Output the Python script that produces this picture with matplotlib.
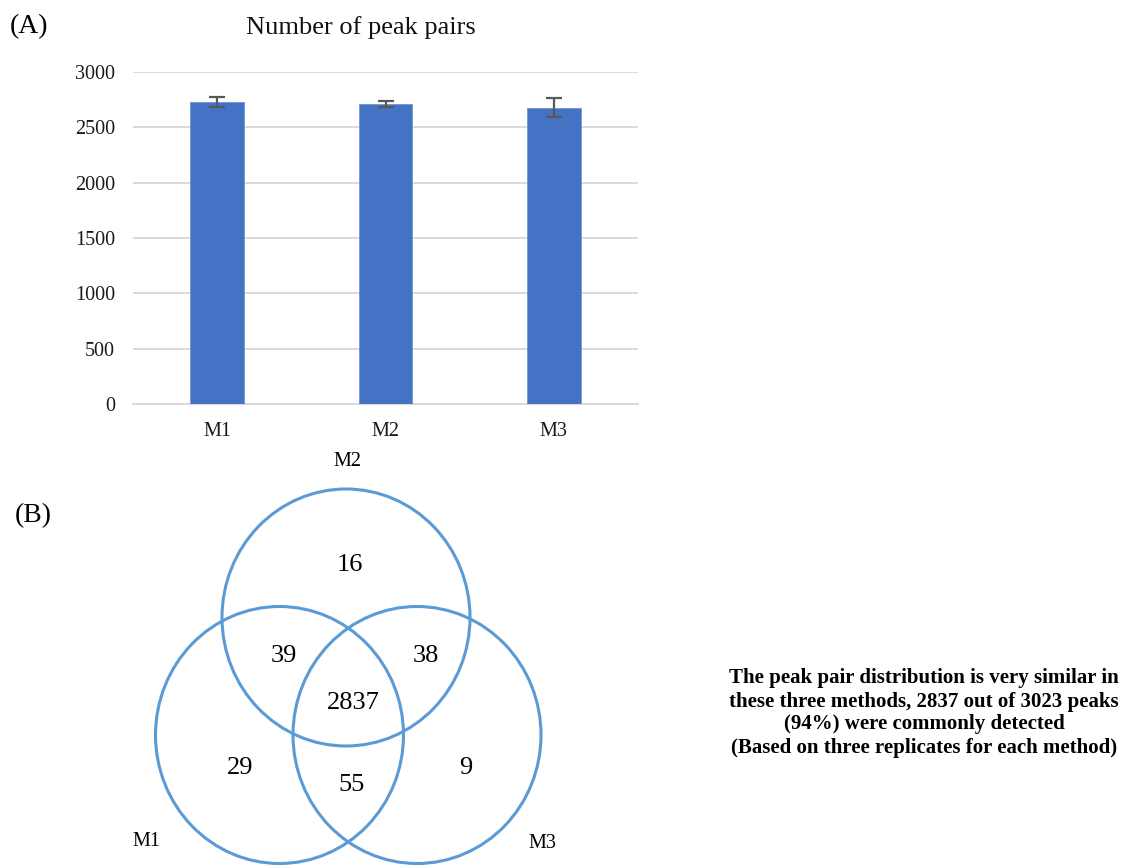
#!/usr/bin/env python3
"""Peak pair counts per method (bar chart) and their overlap (Venn diagram)."""

import matplotlib
matplotlib.use("Agg")
import matplotlib.pyplot as plt
from matplotlib.patches import Ellipse

plt.rcParams["font.family"] = ["Liberation Serif", "DejaVu Serif"]

# Mean number of peak pairs over three replicates, with error bars
METHODS = ["M1", "M2", "M3"]
PEAK_MEANS = [2730, 2715, 2678]
PEAK_ERR = [45, 27, 83]
Y_TICKS = [0, 500, 1000, 1500, 2000, 2500, 3000]

# Venn region counts
ONLY_M1 = 29
ONLY_M2 = 16
ONLY_M3 = 9
M1_M2 = 39
M2_M3 = 38
M1_M3 = 55
ALL_THREE = 2837

BAR_COLOR = "#4472C4"
ERR_COLOR = "#595959"
GRID_COLOR = "#D9D9D9"
CIRCLE_COLOR = "#5B9BD5"

W, H = 1127, 865
fig = plt.figure(figsize=(W / 100, H / 100), dpi=100)
fig.patch.set_facecolor("white")


def box(x0, y0, x1, y1):
    # pixel box (top-left origin) -> figure fraction rect
    return [x0 / W, 1 - y1 / H, (x1 - x0) / W, (y1 - y0) / H]


# --- (A) bar chart ---
ax = fig.add_axes(box(133, 72, 638, 404))
x = list(range(len(METHODS)))
ax.bar(x, PEAK_MEANS, width=0.32, color=BAR_COLOR, edgecolor="#6E93D6",
       linewidth=0.6, zorder=3)
ax.errorbar(x, PEAK_MEANS, yerr=PEAK_ERR, fmt="none", ecolor=ERR_COLOR,
            elinewidth=1.6, capsize=6, capthick=1.6, zorder=4)
ax.set_xlim(-0.5, len(METHODS) - 0.5)
ax.set_ylim(0, 3000)
ax.set_yticks(Y_TICKS)
ax.set_yticklabels([str(t) for t in Y_TICKS])
ax.set_xticks(x)
ax.set_xticklabels(METHODS)
ax.tick_params(axis="both", length=0, labelsize=14.5, colors="#1a1a1a")
ax.tick_params(axis="y", pad=13)
ax.tick_params(axis="x", pad=13)
ax.yaxis.grid(True, color=GRID_COLOR, linewidth=1.4, zorder=0)
ax.set_axisbelow(True)
for side in ("top", "right", "left"):
    ax.spines[side].set_visible(False)
ax.spines["bottom"].set_color(GRID_COLOR)
ax.spines["bottom"].set_linewidth(1.4)

fig.text(361 / W, 1 - 28 / H, "Number of peak pairs", ha="center", va="center",
         fontsize=19, color="#111111")
fig.text(10 / W, 1 - 27 / H, "(A)", ha="left", va="center", fontsize=20)

# --- (B) Venn diagram, drawn in pixel space ---
vx = fig.add_axes([0, 0, 1, 1], zorder=-1)
vx.set_xlim(0, W)
vx.set_ylim(H, 0)
vx.axis("off")

rw, rh = 248, 257
for cx, cy in [(346, 617.5), (279.5, 735), (417, 735)]:
    vx.add_patch(Ellipse((cx, cy), rw, rh, fill=False, edgecolor=CIRCLE_COLOR,
                         linewidth=2.2))

regions = [
    (ONLY_M2, 350, 565), (M1_M2, 284, 656), (M2_M3, 426, 656),
    (ALL_THREE, 353, 703), (ONLY_M1, 240, 768), (ONLY_M3, 466, 768),
    (M1_M3, 351, 785),
]
for val, px, py in regions:
    vx.text(px, py, str(val), ha="center", va="center", fontsize=19)

vx.text(347, 462, "M2", ha="center", va="center", fontsize=14.5)
vx.text(146, 842, "M1", ha="center", va="center", fontsize=14.5)
vx.text(542, 843, "M3", ha="center", va="center", fontsize=14.5)
vx.text(33, 516, "(B)", ha="center", va="center", fontsize=20)

total = ONLY_M1 + ONLY_M2 + ONLY_M3 + M1_M2 + M2_M3 + M1_M3 + ALL_THREE
pct = round(100 * ALL_THREE / total)
summary = (
    "The peak pair distribution is very similar in\n"
    f"these three methods, {ALL_THREE} out of {total} peaks\n"
    f"({pct}%) were commonly detected\n"
    "(Based on three replicates for each method)"
)
vx.text(924, 713, summary, ha="center", va="center", fontsize=15,
        fontweight="bold", linespacing=1.2)

fig.savefig("out.png", dpi=100, facecolor="white")
